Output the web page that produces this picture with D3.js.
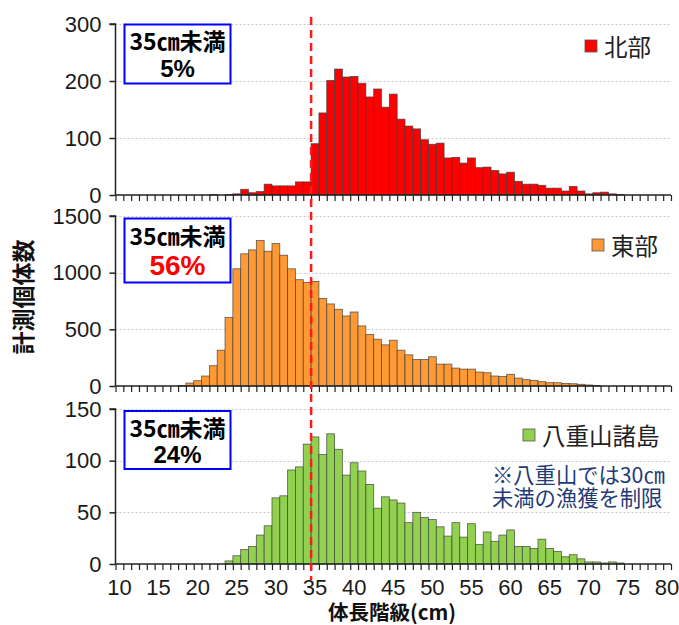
<!DOCTYPE html>
<html><head><meta charset="utf-8">
<script src="https://cdn.jsdelivr.net/npm/d3@7"></script>
<style>body{margin:0;background:#fff}svg{display:block}</style>
</head><body>
<svg id="c" width="679" height="625"></svg>
<script>
// ---------- DATA ----------
const categories = [10,11,12,13,14,15,16,17,18,19,20,21,22,23,24,25,26,27,28,29,30,31,32,33,34,35,36,37,38,39,40,41,42,43,44,45,46,47,48,49,50,51,52,53,54,55,56,57,58,59,60,61,62,63,64,65,66,67,68,69,70,71,72,73,74,75,76,77,78,79,80];
const xTickLabels = [10,15,20,25,30,35,40,45,50,55,60,65,70,75,80];
// 北部 (10cm .. 80cm)
const northValues = [0,0,0,0,0,0,0,0,0,0,0,0,1,0,1,2,10,4,6,19,16,16,16,23,23,90,144,201,221,207,208,196,172,186,154,177,133,121,116,97,89,91,65,66,56,65,48,49,43,37,40,24,19,19,17,12,12,7,15,7,2,4,5,2,1,0,0,0,0,0,0];
// 東部
const eastValues = [0,0,0,0,0,0,0,0,5,26,47,88,179,316,604,1034,1166,1201,1283,1189,1257,1154,1034,938,914,923,773,724,677,618,653,530,454,413,363,404,316,275,234,234,258,193,193,158,149,149,123,117,88,85,103,70,56,50,38,29,29,23,20,15,9,5,0,0,0,0,0,0,0,0,0];
// 八重山諸島
const yaeyamaValues = [0,0,0,0,0,0,0,0,0,0,0,0,0,0,3,8,14,17,28,37,64,66,91,94,116,123,106,126,111,86,98,90,77,54,65,62,59,40,50,45,43,36,27,40,26,39,19,31,22,28,33,17,17,15,24,15,12,7,9,5,2,2,1,2,1,0,0,0,0,0,0];
const regionNames = ["北部", "東部", "八重山諸島"];
const yMaxValues = [300, 1500, 150];
const yTickValues = [[0,100,200,300],[0,500,1000,1500],[0,50,100,150]];
const under35Pct = ["5%", "56%", "24%"];
const boxTitle = "35㎝未満";
const limitValue = 35;
const noteLines = ["※八重山では30㎝", "未満の漁獲を制限"];
const xTitle = "体長階級(cm)";
const yTitle = "計測個体数";

// ---------- LAYOUT ----------
const seriesValues = [northValues, eastValues, yaeyamaValues];
const colors = ["#ff0000", "#ff9933", "#92d050"];
const panels = [
  {top: 24, bottom: 195, boxTop: 24.5, boxH: 59, l1: 50, l2: 76.5, pctSize: 24, pctColor: "#000", legX: 585, legY: 46},
  {top: 216, bottom: 386, boxTop: 218.5, boxH: 64, l1: 245, l2: 275, pctSize: 28, pctColor: "#ff0000", legX: 592, legY: 245},
  {top: 409, bottom: 564, boxTop: 411, boxH: 58, l1: 437, l2: 463, pctSize: 24, pctColor: "#000", legX: 523, legY: 435}
];
const xL = 115.5, xR = 671;
const svg = d3.select("#c");
svg.append("rect").attr("width", 679).attr("height", 625).attr("fill", "#fff");

const x = d3.scaleBand().domain(categories).range([xL, xR]).padding(0);
const bw = x.bandwidth();
const xe = d3.scaleLinear().domain([categories[0] - 0.5, categories[categories.length-1] + 0.5]).range([xL, xR]);
const edges = categories.map(c => c - 0.5).concat([categories[categories.length-1] + 0.5]);

const numFont = "'Liberation Sans', Arial, sans-serif";
const jpFont = "'Noto Sans CJK JP', 'Noto Sans', sans-serif";

panels.forEach((p, i) => {
  const y = d3.scaleLinear().domain([0, yMaxValues[i]]).range([p.bottom, p.top]);
  const g = svg.append("g");
  // gridlines
  g.selectAll("line.grid").data(yTickValues[i].filter(v => v > 0)).enter().append("line")
    .attr("x1", xL).attr("x2", xR).attr("y1", d => Math.round(y(d)) + 0.5).attr("y2", d => Math.round(y(d)) + 0.5)
    .attr("stroke", "#c8c8c8").attr("stroke-width", 1).attr("stroke-dasharray", "2,2");
  // bars
  const data = categories.map((c, k) => ({c, v: seriesValues[i][k]})).filter(d => d.v > 0);
  g.selectAll("rect.bar").data(data).enter().append("rect")
    .attr("x", d => x(d.c)).attr("width", bw)
    .attr("y", d => y(d.v)).attr("height", d => p.bottom - y(d.v))
    .attr("fill", colors[i]).attr("stroke", "#3a3a3a").attr("stroke-opacity", 0.8).attr("stroke-width", 0.8);
  // y axis
  const ya = g.append("g").attr("transform", `translate(${xL},0)`)
    .call(d3.axisLeft(y).tickValues(yTickValues[i]).tickSize(6).tickPadding(8).tickFormat(d3.format("d")));
  ya.select(".domain").attr("stroke", "#222").attr("stroke-width", 1.5).attr("d", `M-6,${p.top}H0V${p.bottom}`);
  ya.selectAll(".tick line").attr("stroke", "#222").attr("stroke-width", 1.5);
  ya.selectAll(".tick text").attr("font-family", numFont).attr("font-size", 22).attr("fill", "#1a1a1a");
  // x axis with minor ticks at category edges
  const xa = g.append("g").attr("transform", `translate(0,${p.bottom})`)
    .call(d3.axisBottom(xe).tickValues(edges).tickSize(6).tickFormat(""));
  xa.select(".domain").attr("stroke", "#222").attr("stroke-width", 1.5).attr("d", `M${xL},0H${xR}`);
  xa.selectAll(".tick line").attr("stroke", "#222").attr("stroke-width", 1.2);
  if (i === 2) {
    const xl = g.append("g").attr("transform", `translate(0,${p.bottom})`)
      .call(d3.axisBottom(x).tickValues(xTickLabels).tickSize(0).tickPadding(15));
    xl.select(".domain").remove();
    xl.selectAll(".tick text").attr("font-family", numFont).attr("font-size", 22).attr("fill", "#1a1a1a");
  }
  // annotation box
  svg.append("rect").attr("x", 124.5).attr("y", p.boxTop).attr("width", 106).attr("height", p.boxH)
    .attr("fill", "#fff").attr("stroke", "#0000ff").attr("stroke-width", 2);
  svg.append("text").attr("x", 177.5).attr("y", p.l1).attr("text-anchor", "middle")
    .attr("font-family", jpFont).attr("font-weight", "bold").attr("font-size", 23).attr("fill", "#000").text(boxTitle);
  svg.append("text").attr("x", 177.5).attr("y", p.l2).attr("text-anchor", "middle")
    .attr("font-family", numFont).attr("font-weight", "bold").attr("font-size", p.pctSize).attr("fill", p.pctColor).text(under35Pct[i]);
  // legend
  svg.append("rect").attr("x", p.legX).attr("y", p.legY - 6).attr("width", 12).attr("height", 12)
    .attr("fill", colors[i]).attr("stroke", "#555").attr("stroke-width", 0.8);
  svg.append("text").attr("x", p.legX + 19).attr("y", p.legY).attr("dominant-baseline", "central")
    .attr("font-family", jpFont).attr("font-size", 23.5).attr("fill", "#222").text(regionNames[i]);
});

// note for Yaeyama
noteLines.forEach((t, k) => {
  svg.append("text").attr("x", 492).attr("y", 473 + k * 23).attr("dominant-baseline", "central")
    .attr("font-family", jpFont).attr("font-size", 21.3).attr("fill", "#1f3b78").text(t);
});

// dashed 35cm line
svg.append("line").attr("x1", x(limitValue)).attr("x2", x(limitValue)).attr("y1", 17).attr("y2", 580)
  .attr("stroke", "#ff1a1a").attr("stroke-width", 2.5).attr("stroke-dasharray", "8,5");

// axis titles
svg.append("text").attr("transform", "translate(22,297) rotate(-90)").attr("text-anchor", "middle")
  .attr("dominant-baseline", "central").attr("font-family", jpFont).attr("font-weight", "bold")
  .attr("font-size", 23).attr("fill", "#111").text(yTitle);
svg.append("text").attr("x", 392).attr("y", 619.5).attr("text-anchor", "middle")
  .attr("font-family", jpFont).attr("font-weight", "bold").attr("font-size", 20.5).attr("fill", "#111").text(xTitle);
</script>
</body></html>
